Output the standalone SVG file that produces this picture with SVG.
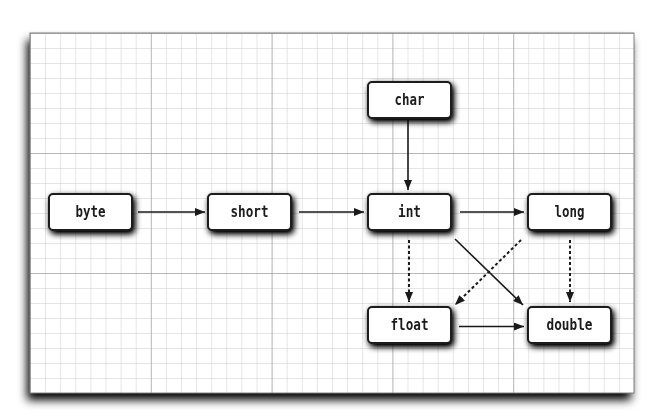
<svg xmlns="http://www.w3.org/2000/svg" width="664" height="420" viewBox="0 0 664 420">
  <style>
    .box { fill: #ffffff; stroke: #1a1a1a; stroke-width: 2; }
    .lbl { font-family: "DejaVu Sans Mono", "Liberation Mono", monospace; font-size: 15px; font-weight: bold; fill: #1a1a1a; text-anchor: middle; dominant-baseline: central; }
    .edge { stroke: #1a1a1a; stroke-width: 1.6; fill: none; }
    .dash { stroke-dasharray: 3 2.5; stroke-width: 2; }
  </style>
  <defs>
    <filter id="panelShadow" x="-10%" y="-10%" width="120%" height="125%">
      <feGaussianBlur in="SourceAlpha" stdDeviation="5"/>
      <feOffset dx="-3" dy="7" result="b"/>
      <feComponentTransfer><feFuncA type="linear" slope="1"/></feComponentTransfer>
      <feMerge><feMergeNode/><feMergeNode in="SourceGraphic"/></feMerge>
    </filter>
    <filter id="boxShadow" x="-20%" y="-30%" width="150%" height="180%">
      <feGaussianBlur in="SourceAlpha" stdDeviation="3"/>
      <feOffset dx="1.5" dy="3" result="b"/>
      <feComponentTransfer><feFuncA type="linear" slope="1.2"/></feComponentTransfer>
      <feMerge><feMergeNode/><feMergeNode in="SourceGraphic"/></feMerge>
    </filter>
    <pattern id="minor" patternUnits="userSpaceOnUse" x="30" y="33" width="15.1" height="15">
      <path d="M0 0 H15.1 M0 0 V15" stroke="#cccccc" stroke-width="1" fill="none"/>
    </pattern>
    <pattern id="major" patternUnits="userSpaceOnUse" x="30" y="33" width="120.8" height="120">
      <path d="M0 0 H120.8 M0 0 V120" stroke="#8c8c8c" stroke-width="1" fill="none"/>
    </pattern>
    <marker id="arrow" viewBox="0 0 10 8" refX="10" refY="4" markerWidth="10" markerHeight="8" markerUnits="userSpaceOnUse" orient="auto">
      <path d="M0 0 L10 4 L0 8 Z" fill="#1a1a1a"/>
    </marker>
  </defs>

  <g id="panel">
    <rect x="30" y="33" width="604" height="360" fill="#ffffff" filter="url(#panelShadow)"/>
    <rect x="30" y="33" width="604" height="360" fill="url(#minor)"/>
    <rect x="30" y="33" width="604" height="360" fill="url(#major)"/>
    <rect x="30" y="33" width="604" height="360" fill="none" stroke="#808080" stroke-width="1"/>
  </g>

  <g id="connectors">
    <line class="edge" x1="138" y1="212" x2="205" y2="212" marker-end="url(#arrow)"/>
    <line class="edge" x1="299" y1="212" x2="364" y2="212" marker-end="url(#arrow)"/>
    <line class="edge" x1="460" y1="212" x2="524" y2="212" marker-end="url(#arrow)"/>
    <line class="edge" x1="408" y1="120" x2="408" y2="190" marker-end="url(#arrow)"/>
    <line class="edge dash" x1="409" y1="240" x2="409" y2="302" marker-end="url(#arrow)"/>
    <line class="edge dash" x1="570" y1="240" x2="570" y2="302" marker-end="url(#arrow)"/>
    <line class="edge" x1="455" y1="239" x2="523" y2="305" marker-end="url(#arrow)"/>
    <line class="edge dash" x1="521" y1="240" x2="455" y2="305" marker-end="url(#arrow)"/>
    <line class="edge" x1="459" y1="326.5" x2="524" y2="326.5" marker-end="url(#arrow)"/>
  </g>

  <g id="node-char" filter="url(#boxShadow)">
    <rect class="box" x="368" y="82" width="83" height="36" rx="4"/>
    <text class="lbl" x="409.5" y="100" textLength="30" lengthAdjust="spacingAndGlyphs">char</text>
  </g>
  <g id="node-byte" filter="url(#boxShadow)">
    <rect class="box" x="49" y="194" width="83" height="36" rx="4"/>
    <text class="lbl" x="90.5" y="212" textLength="30" lengthAdjust="spacingAndGlyphs">byte</text>
  </g>
  <g id="node-short" filter="url(#boxShadow)">
    <rect class="box" x="208" y="194" width="83" height="36" rx="4"/>
    <text class="lbl" x="249.5" y="212" textLength="38" lengthAdjust="spacingAndGlyphs">short</text>
  </g>
  <g id="node-int" filter="url(#boxShadow)">
    <rect class="box" x="368" y="194" width="83" height="36" rx="4"/>
    <text class="lbl" x="409.5" y="212" textLength="23" lengthAdjust="spacingAndGlyphs">int</text>
  </g>
  <g id="node-long" filter="url(#boxShadow)">
    <rect class="box" x="528" y="194" width="83" height="36" rx="4"/>
    <text class="lbl" x="569.5" y="212" textLength="30" lengthAdjust="spacingAndGlyphs">long</text>
  </g>
  <g id="node-float" filter="url(#boxShadow)">
    <rect class="box" x="368" y="307" width="83" height="36" rx="4"/>
    <text class="lbl" x="409.5" y="325" textLength="38" lengthAdjust="spacingAndGlyphs">float</text>
  </g>
  <g id="node-double" filter="url(#boxShadow)">
    <rect class="box" x="528" y="307" width="83" height="36" rx="4"/>
    <text class="lbl" x="569.5" y="325" textLength="46" lengthAdjust="spacingAndGlyphs">double</text>
  </g>
</svg>
